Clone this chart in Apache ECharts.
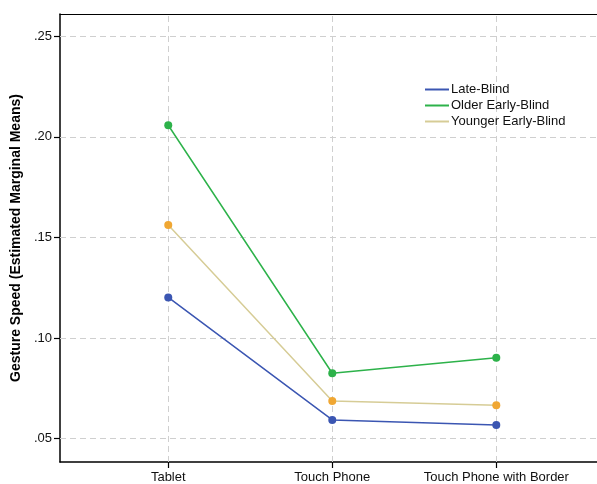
<!DOCTYPE html>
<html><head><meta charset="utf-8">
<script src="https://cdn.jsdelivr.net/npm/echarts@6/dist/echarts.min.js"></script>
<style>html,body{margin:0;padding:0;background:#fff}#c{width:597px;height:484px}</style>
</head><body><div id="c"></div>
<script>
const categories = ['Tablet', 'Touch Phone', 'Touch Phone with Border'];
const seriesNames = ['Late-Blind', 'Older Early-Blind', 'Younger Early-Blind'];
const lateBlind = [0.1202, 0.0593, 0.0568];
const olderEarlyBlind = [0.2058, 0.0825, 0.0902];
const youngerEarlyBlind = [0.1562, 0.0687, 0.0666];
const yTicks = [0.05, 0.10, 0.15, 0.20, 0.25];
const yAxisTitle = 'Gesture Speed (Estimated Marginal Means)';

const font = 'Liberation Sans, Arial, sans-serif';
const lineColors = ['#3b56b2', '#2db24a', '#d6cc96'];
const markColors = ['#3b56b2', '#2db24a', '#f0a733'];
const allData = [lateBlind, olderEarlyBlind, youngerEarlyBlind];
const xIdx = categories.map((c, i) => i);
const gridStyle = {color: '#cfcfcf', type: [6, 4], width: 1};
const xMin = -0.66, xMax = 2.614;

const series = allData.map((d, k) => ({
  name: seriesNames[k], type: 'line',
  data: d.map((v, i) => [i, v]),
  symbol: 'circle', symbolSize: 8,
  lineStyle: {color: lineColors[k], width: 1.5},
  itemStyle: {color: markColors[k]},
  z: 3 + k
}));
series.push({
  name: '_grid', type: 'line', data: [], silent: true, z: 1,
  markLine: {
    silent: true, symbol: 'none', label: {show: false}, z: 1,
    lineStyle: gridStyle, animation: false,
    data: xIdx.map(i => ({xAxis: i})).concat(yTicks.map(v => ({yAxis: v})))
  }
});

const chart = echarts.init(document.getElementById('c'), null, {renderer: 'canvas'});
chart.setOption({
  animation: false,
  backgroundColor: '#fff',
  grid: {left: 60, right: 0, top: 14, bottom: 22, show: false},
  legend: {
    orient: 'vertical', left: 420, top: 78, itemGap: 3,
    itemWidth: 24, itemHeight: 2, icon: 'rect',
    textStyle: {fontFamily: font, fontSize: 13, color: '#111', padding: [0, 0, 0, -3]},
    data: seriesNames.map((n, k) => ({name: n, itemStyle: {color: lineColors[k]}}))
  },
  xAxis: [{
    type: 'value', min: xMin, max: xMax, position: 'bottom',
    axisLine: {show: true, onZero: false, lineStyle: {color: '#000', width: 1.5}},
    axisTick: {show: true, inside: false, length: 6, customValues: xIdx, lineStyle: {color: '#000', width: 1.2}},
    axisLabel: {customValues: xIdx, formatter: v => categories[Math.round(v)], fontFamily: font, fontSize: 13, color: '#111', margin: 9},
    splitLine: {show: false}
  }, {
    type: 'value', min: xMin, max: xMax, position: 'top',
    axisLine: {show: true, onZero: false, lineStyle: {color: '#000', width: 1.2}},
    axisTick: {show: false}, axisLabel: {show: false}, splitLine: {show: false}
  }],
  yAxis: {
    type: 'value', min: 0.0384, max: 0.2611,
    name: yAxisTitle, nameLocation: 'middle', nameGap: 31, nameRotate: 90,
    nameTextStyle: {fontFamily: font, fontSize: 14, fontWeight: 'bold', color: '#000'},
    axisLine: {show: true, onZero: false, lineStyle: {color: '#000', width: 1.5}},
    axisTick: {show: true, inside: false, length: 6, customValues: yTicks, lineStyle: {color: '#000', width: 1.2}},
    axisLabel: {customValues: yTicks, formatter: v => v.toFixed(2).replace(/^0/, ''), fontFamily: font, fontSize: 13, color: '#111', margin: 8},
    splitLine: {show: false}
  },
  series: series
});
</script></body></html>
